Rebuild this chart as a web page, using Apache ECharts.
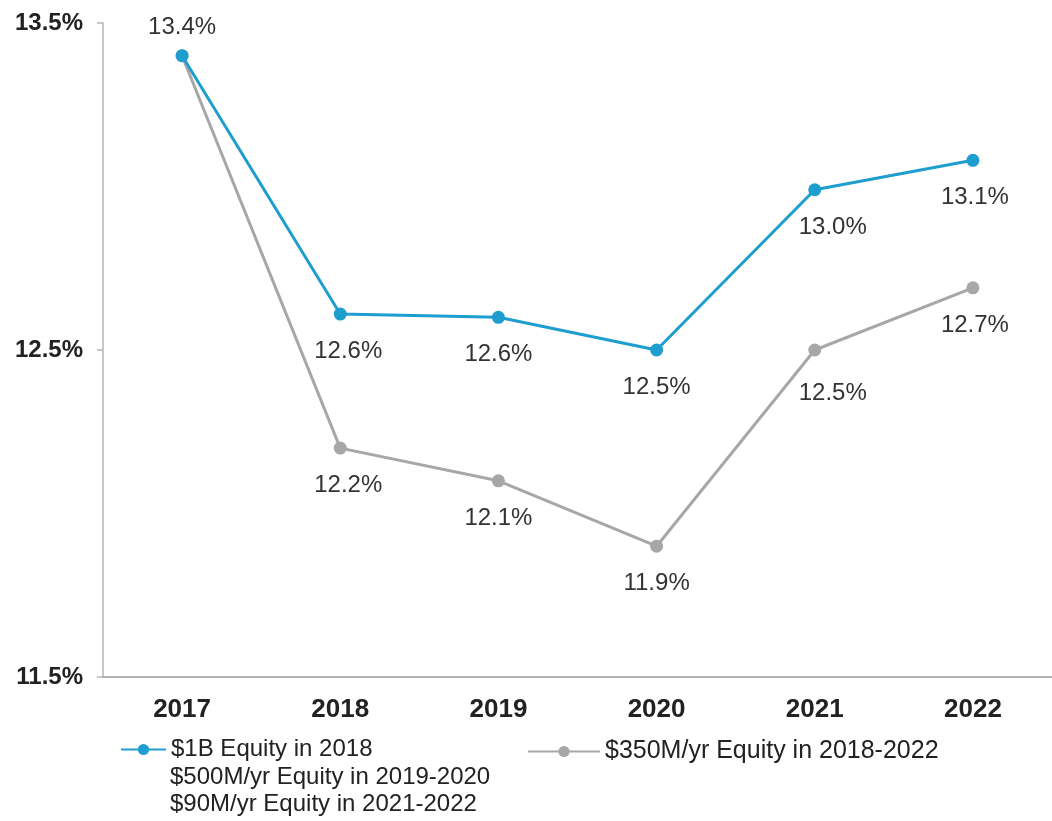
<!DOCTYPE html>
<html>
<head>
<meta charset="utf-8">
<script src="https://cdn.jsdelivr.net/npm/echarts@6/dist/echarts.min.js"></script>
<style>
html,body{margin:0;padding:0;background:#fff;}
#chart{width:1052px;height:821px;}
</style>
</head>
<body>
<div id="chart"></div>
<script>
// ---- data ----
const categories = ['2017', '2018', '2019', '2020', '2021', '2022'];
const seriesBlueName = '$1B Equity in 2018\n$500M/yr Equity in 2019-2020\n$90M/yr Equity in 2021-2022';
const seriesGrayName = '$350M/yr Equity in 2018-2022';
const blueValues = [13.40, 12.61, 12.60, 12.50, 12.99, 13.08];
const grayValues = [13.40, 12.20, 12.10, 11.90, 12.50, 12.69];
const yTicks = [11.5, 12.5, 13.5];

// ---- style ----
const FONT = '"Liberation Sans", Arial, sans-serif';
const BLUE = '#1e9dcf';
const GRAY = '#a7a7a7';
const labelNudgeX = [0, 8, 0, 0, 18, 2];

function pct(v) { return v.toFixed(1) + '%'; }

function buildData(values, isBlue) {
  return values.map((v, i) => {
    const item = { value: v, label: { offset: [labelNudgeX[i], 0] } };
    if (i === 0) {
      if (isBlue) {
        item.label = { position: 'top', distance: 10, offset: [0, 0] };
      } else {
        item.label = { show: false };
      }
    }
    if (!isBlue && i === 4) item.label = { offset: [labelNudgeX[i], 6] };
    return item;
  });
}

const blueLines = seriesBlueName.split('\n');

const chart = echarts.init(document.getElementById('chart'), null, { renderer: 'canvas' });
chart.setOption({
  backgroundColor: '#ffffff',
  animation: false,
  grid: { left: 103, top: 23, width: 962, height: 654, containLabel: false },
  xAxis: {
    type: 'category',
    data: categories,
    boundaryGap: true,
    axisLine: { lineStyle: { color: '#9a9a9a', width: 1.5 } },
    axisTick: { show: false },
    axisLabel: { fontFamily: FONT, fontWeight: 'bold', fontSize: 26, color: '#222', margin: 20 },
    splitLine: { show: false }
  },
  yAxis: {
    type: 'value',
    min: yTicks[0],
    max: yTicks[yTicks.length - 1],
    interval: yTicks[1] - yTicks[0],
    axisLine: { show: true, lineStyle: { color: '#b5b5b5', width: 1.5 } },
    axisTick: { show: true, length: 6, lineStyle: { color: '#b5b5b5', width: 1.5 } },
    axisLabel: { fontFamily: FONT, fontWeight: 'bold', fontSize: 24, color: '#222', margin: 20, formatter: pct },
    splitLine: { show: false }
  },
  legend: [
    {
      data: [seriesBlueName],
      left: 115,
      top: 731,
      itemWidth: 45,
      itemHeight: 14,
      formatter: name => name.split('\n')[0],
      textStyle: { fontFamily: FONT, fontSize: 24, color: '#222', lineHeight: 27 }
    },
    {
      data: [seriesGrayName],
      left: 522,
      top: 733,
      itemWidth: 72,
      itemHeight: 14,
      textStyle: { fontFamily: FONT, fontSize: 25, color: '#222', lineHeight: 27 }
    }
  ],
  graphic: [
    {
      type: 'text',
      left: 170,
      top: 764,
      style: {
        text: blueLines.slice(1).join('\n'),
        font: '24px "Liberation Sans", Arial, sans-serif',
        lineHeight: 27,
        fill: '#222'
      }
    }
  ],
  series: [
    {
      name: seriesGrayName,
      type: 'line',
      z: 2,
      data: buildData(grayValues, false),
      symbol: 'circle',
      symbolSize: 13,
      lineStyle: { color: GRAY, width: 3 },
      itemStyle: { color: GRAY },
      label: { show: true, position: 'bottom', distance: 19, fontFamily: FONT, fontSize: 24, color: '#333', formatter: p => pct(p.value) }
    },
    {
      name: seriesBlueName,
      type: 'line',
      z: 3,
      data: buildData(blueValues, true),
      symbol: 'circle',
      symbolSize: 13,
      lineStyle: { color: BLUE, width: 3 },
      itemStyle: { color: BLUE },
      label: { show: true, position: 'bottom', distance: 19, fontFamily: FONT, fontSize: 24, color: '#333', formatter: p => pct(p.value) }
    }
  ]
});
</script>
</body>
</html>
